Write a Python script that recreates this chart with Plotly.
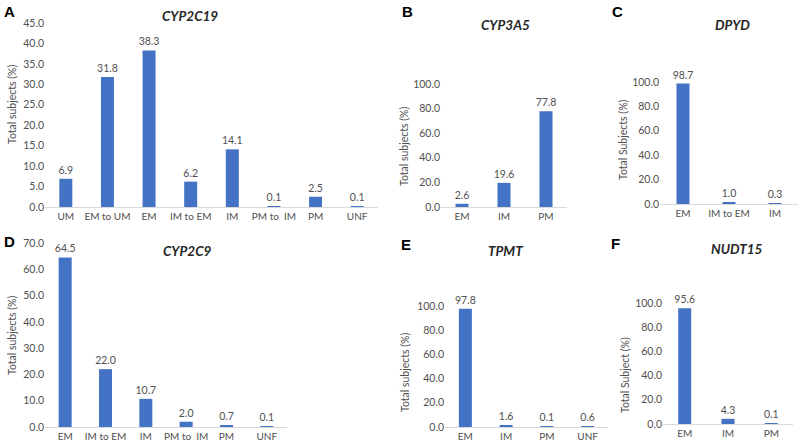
import plotly.graph_objects as go

# ---- data ----
cyp2c19_cats = ["UM", "EM to UM", "EM", "IM to EM", "IM", "PM to  IM", "PM", "UNF"]
cyp2c19_vals = [6.9, 31.8, 38.3, 6.2, 14.1, 0.1, 2.5, 0.1]

cyp3a5_cats = ["EM", "IM", "PM"]
cyp3a5_vals = [2.6, 19.6, 77.8]

dpyd_cats = ["EM", "IM to EM", "IM"]
dpyd_vals = [98.7, 1.0, 0.3]

cyp2c9_cats = ["EM", "IM to EM", "IM", "PM to  IM", "PM", "UNF"]
cyp2c9_vals = [64.5, 22.0, 10.7, 2.0, 0.7, 0.1]

tpmt_cats = ["EM", "IM", "PM", "UNF"]
tpmt_vals = [97.8, 1.6, 0.1, 0.6]

nudt15_cats = ["EM", "IM", "PM"]
nudt15_vals = [95.6, 4.3, 0.1]

BAR = "#4472C4"
TXT = "#505050"
FONT = "Lato, 'Open Sans', sans-serif"
W, H = 800, 445

def px_x(p):
    return p / W

def px_y(p):
    return 1 - p / H

panels = [
    dict(name="CYP2C19", letter="A", cats=cyp2c19_cats, vals=cyp2c19_vals, x0=45, x1=378, y0=207, ytop=23,
         rng=[0, 45], dtick=5, ylab="Total subjects (%)", ylab_xy=(12, 104),
         title_xy=(190, 16), letter_xy=(9, 11)),
    dict(name="CYP3A5", letter="B", cats=cyp3a5_cats, vals=cyp3a5_vals, x0=441, x1=567, y0=207, ytop=84,
         rng=[0, 100], dtick=20, ylab="Total subjects (%)", ylab_xy=(404, 146),
         title_xy=(505, 25), letter_xy=(407, 11)),
    dict(name="DPYD", letter="C", cats=dpyd_cats, vals=dpyd_vals, x0=660, x1=798, y0=204, ytop=82,
         rng=[0, 100], dtick=20, ylab="Total Subjects (%)", ylab_xy=(623, 140),
         title_xy=(732, 25), letter_xy=(617, 11)),
    dict(name="CYP2C9", letter="D", cats=cyp2c9_cats, vals=cyp2c9_vals, x0=45, x1=287, y0=427, ytop=243,
         rng=[0, 70], dtick=10, ylab="Total subjects (%)", ylab_xy=(12, 335),
         title_xy=(187, 251), letter_xy=(9, 242)),
    dict(name="TPMT", letter="E", cats=tpmt_cats, vals=tpmt_vals, x0=445, x1=608, y0=427, ytop=306,
         rng=[0, 100], dtick=20, ylab="Total subjects (%)", ylab_xy=(405, 372),
         title_xy=(505, 251), letter_xy=(406, 244)),
    dict(name="NUDT15", letter="F", cats=nudt15_cats, vals=nudt15_vals, x0=663, x1=793, y0=424, ytop=303,
         rng=[0, 100], dtick=20, ylab="Total Subject (%)", ylab_xy=(625, 375),
         title_xy=(737, 249), letter_xy=(615, 243)),
]

fig = go.Figure()
annotations = []
for i, p in enumerate(panels):
    k = "" if i == 0 else str(i + 1)
    n = len(p["cats"])
    spacing = (p["x1"] - p["x0"]) / n
    fig.add_trace(go.Bar(
        x=p["cats"], y=p["vals"], xaxis="x" + k, yaxis="y" + k,
        marker=dict(color=BAR, line=dict(width=0)),
        width=13 / spacing,
        text=[f"{v:.1f}" for v in p["vals"]], textposition="outside",
        textfont=dict(size=10.5, color=TXT, family=FONT),
        cliponaxis=False, showlegend=False,
    ))
    fig.update_layout(**{
        "xaxis" + k: dict(domain=[px_x(p["x0"]), px_x(p["x1"])], anchor="y" + k,
                          showline=True, linecolor="#d9d9d9", linewidth=1, ticks="",
                          showgrid=False, tickfont=dict(size=10, color=TXT, family=FONT),
                          ticklabelstandoff=0, automargin=False, fixedrange=True),
        "yaxis" + k: dict(domain=[px_y(p["y0"]), px_y(p["ytop"])], anchor="x" + k,
                          range=p["rng"], dtick=p["dtick"], tickformat=".1f",
                          showgrid=False, zeroline=False, showline=False, ticks="",
                          tickfont=dict(size=10.5, color=TXT, family=FONT),
                          automargin=False, fixedrange=True),
    })
    annotations.append(dict(text=p["ylab"], x=px_x(p["ylab_xy"][0]), y=px_y(p["ylab_xy"][1]),
                            xref="paper", yref="paper", showarrow=False, textangle=-90,
                            xanchor="center", yanchor="middle",
                            font=dict(size=10.5, color=TXT, family=FONT)))
    annotations.append(dict(text="<b><i>" + p["name"] + "</i></b>", x=px_x(p["title_xy"][0]),
                            y=px_y(p["title_xy"][1]), xref="paper", yref="paper", showarrow=False,
                            xanchor="center", yanchor="middle",
                            font=dict(size=13.5, color="#262626", family=FONT)))
    annotations.append(dict(text="<b>" + p["letter"] + "</b>", x=px_x(p["letter_xy"][0]),
                            y=px_y(p["letter_xy"][1]), xref="paper", yref="paper", showarrow=False,
                            xanchor="center", yanchor="middle",
                            font=dict(size=15, color="#000000", family="Liberation Sans, Arial, sans-serif")))

fig.update_layout(width=W, height=H, margin=dict(l=0, r=0, t=0, b=0, autoexpand=False),
                  paper_bgcolor="white", plot_bgcolor="white",
                  uniformtext=dict(minsize=10.5, mode="show"),
                  annotations=annotations, font=dict(family=FONT))

fig.write_html("out.html", post_script="document.body.style.margin='0';",
               config={"displayModeBar": False})
